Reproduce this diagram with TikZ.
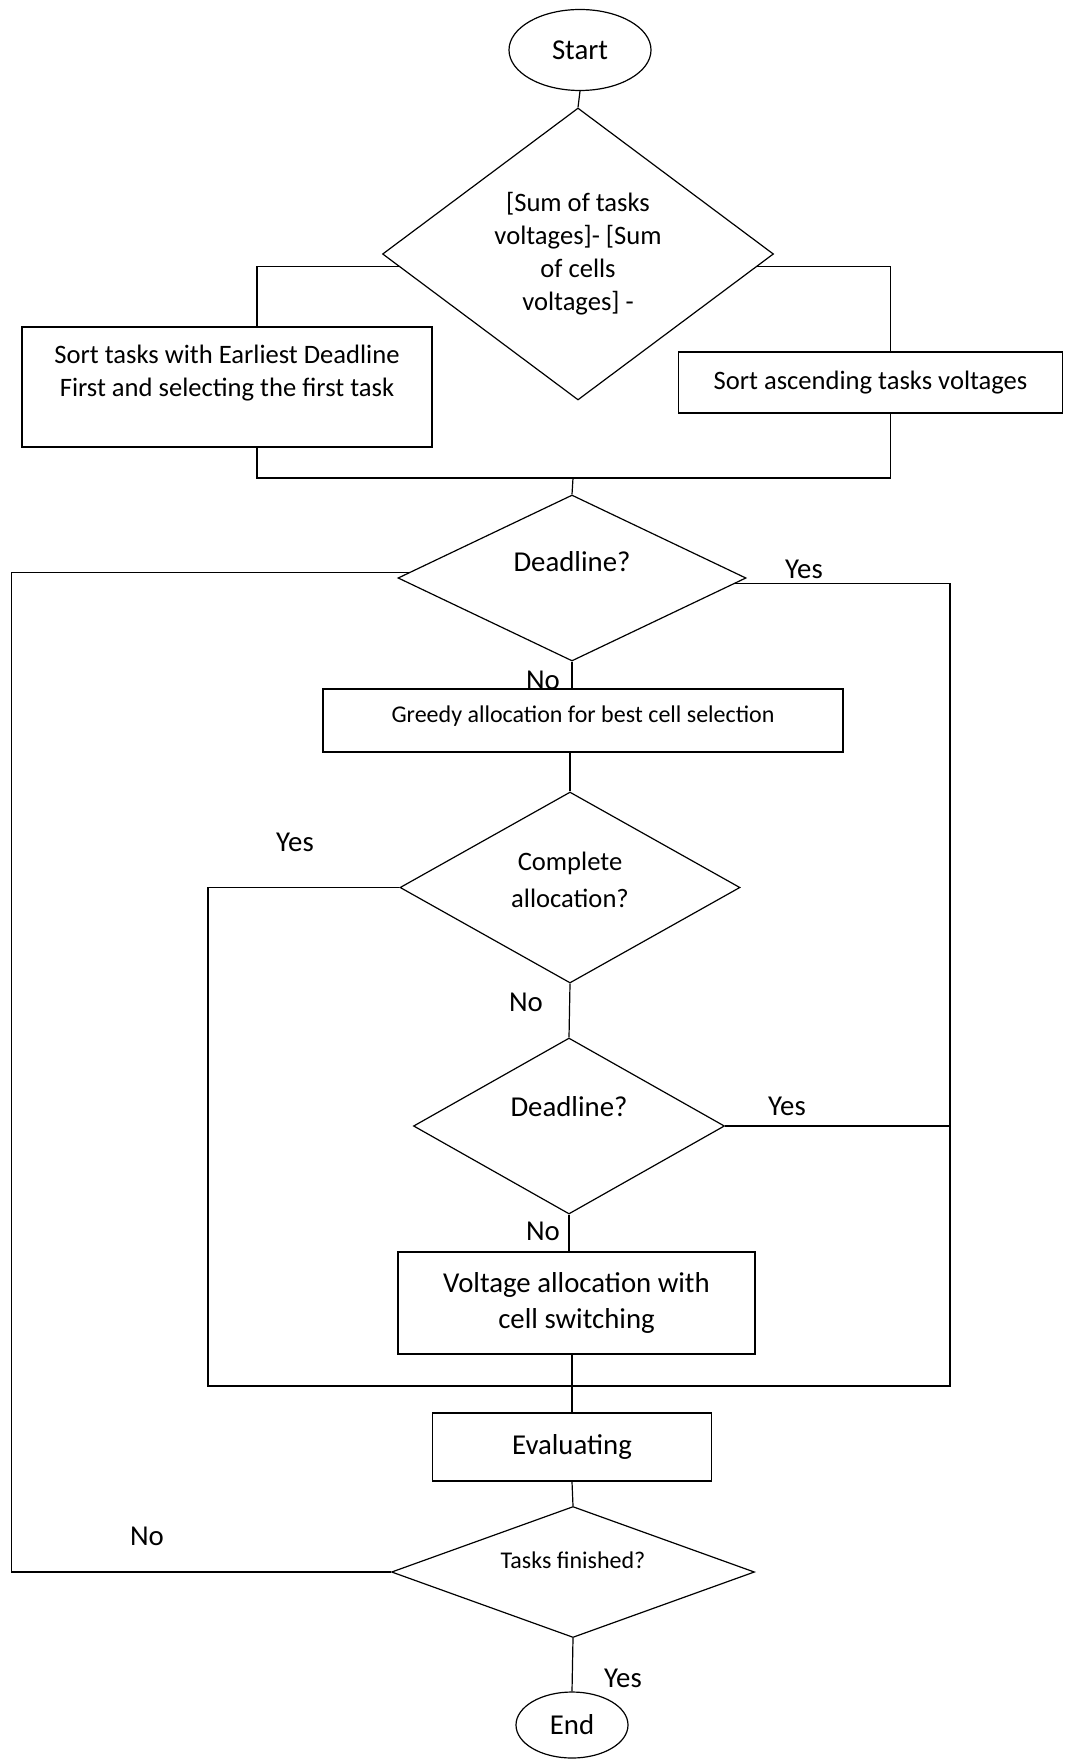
\documentclass[tikz,border=0pt]{standalone}
\usepackage{fontspec}
\setmainfont{Carlito}
\usepackage{tikz}
\usetikzlibrary{shapes.geometric,positioning}
\newcommand{\szL}{\fontsize{14.4}{18}\selectfont}
\newcommand{\szM}{\fontsize{13.3}{16.5}\selectfont}
\newcommand{\szS}{\fontsize{12}{14.4}\selectfont}
\newcommand{\lift}[2]{\raisebox{\dimexpr#1-0.33em\relax}[0pt][0pt]{\begin{tabular}{@{}c@{}}#2\end{tabular}}}

\begin{document}
\begin{tikzpicture}[x=0.5pt, y=-0.5pt, box/.style={draw, line width=0.9pt, align=center}, dec/.style={draw, diamond, aspect=1.34, inner sep=0pt, line width=0.6pt, align=center}, term/.style={draw, ellipse, line width=0.6pt, font=\szL}, link/.style={line width=0.6pt}, lbl/.style={font=\szL}]
\useasboundingbox (0,0) rectangle (1064,1759);
\node[term, minimum width=71pt, minimum height=40.5pt] (start) at (580,50) {Start};
\node[dec, font=\szM, minimum width=195.5pt, minimum height=146pt] (sum) at (578,254) {[Sum of tasks\\voltages]- [Sum\\of cells\\voltages] -};
\node[box, font=\szM, minimum width=205pt, minimum height=60pt] (edf) at (227,387) {\lift{7.75pt}{Sort tasks with Earliest Deadline\\First and selecting the first task}};
\node[box, font=\szM, minimum width=192pt, minimum height=30.5pt] (sasc) at (870.5,382.5) {Sort ascending tasks voltages};
\node[dec, font=\szL, minimum width=174pt, minimum height=83pt] (dl1) at (572,578) {\lift{8pt}{Deadline?}};
\node[box, font=\szS, minimum width=260pt, minimum height=31.5pt] (gr) at (583,720.5) {\lift{2.75pt}{Greedy allocation for best cell selection}};
\node[dec, font={\fontsize{13.3}{18.5}\selectfont}, minimum width=170pt, minimum height=95.5pt] (ca) at (570,887.5) {\lift{3.5pt}{Complete\\allocation?}};
\node[dec, font=\szL, minimum width=155.5pt, minimum height=88pt] (dl2) at (569,1126) {\lift{9.5pt}{Deadline?}};
\node[box, font=\szL, minimum width=178.5pt, minimum height=51pt] (va) at (576.5,1303) {Voltage allocation with\\cell switching};
\node[box, font=\szL, minimum width=139.5pt, minimum height=34pt] (ev) at (572,1447) {Evaluating};
\node[dec, font=\szS, minimum width=181.5pt, minimum height=65.5pt] (tf) at (573,1572) {\lift{5.5pt}{Tasks finished?}};
\node[term, minimum width=56pt, minimum height=33pt] (end) at (572,1725) {End};
% branch labels
\node[lbl] (yes1) at (804,569) {Yes};
\node[lbl] (no1) at (543,680) {No};
\node[lbl] (yes2) at (295,842) {Yes};
\node[lbl] (no2) at (526,1002) {No};
\node[lbl] (yes3) at (787,1106) {Yes};
\node[lbl] (no3) at (543,1231) {No};
\node[lbl] (no4) at (147,1536) {No};
\node[lbl] (yes4) at (623,1678) {Yes};
% connectors
\coordinate (merge) at (573,478);
\coordinate (back) at (11.5,1572);
\coordinate (rdown) at (950,1386);
\coordinate (ldown) at (208,1386);
\draw[link] (start.south) -- (sum.north);
\draw[link] (sum.184) -| ([xshift=15pt]edf.north);
\draw[link] (sum.356) -| ([xshift=10pt]sasc.north);
\draw[link] ([xshift=15pt]edf.south) |- (merge) -| ([xshift=10pt]sasc.south);
\draw[link] (merge) -- (dl1.north);
\draw[link] (dl1.south) -- (dl1.south |- gr.north);
\draw[link] (ca.north |- gr.south) -- (ca.north);
\draw[link] (ca.south) -- (dl2.north);
\draw[link] (dl2.south) -- (dl2.south |- va.north);
\draw[link] (ev.north |- va.south) -- (ev.north);
\draw[link] (ev.south) -- (tf.north);
\draw[link] (tf.south) -- (end.north);
\draw[link] (dl1.178) -| (back) -- (tf.west);
\draw[link] (dl1.358) -| (rdown) -- (ldown) |- (ca.west);
\draw[link] (dl2.east) -- (dl2.east -| rdown);
\end{tikzpicture}
\end{document}
